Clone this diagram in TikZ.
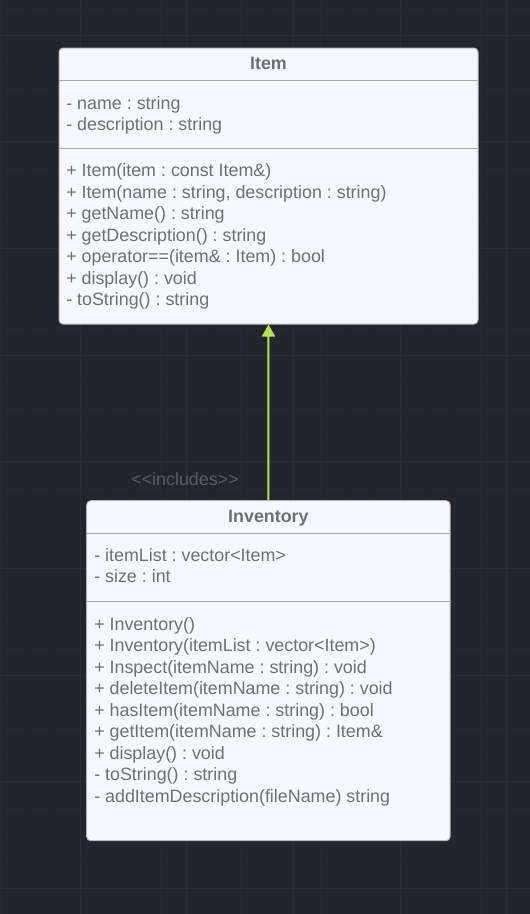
\documentclass[tikz,border=0pt]{standalone}
\usepackage{fontspec}
\setmainfont{Liberation Sans}
\usepackage{xcolor}
\usepackage{tikz}
\usetikzlibrary{positioning,arrows.meta}
\definecolor{CanvasDark}{HTML}{22252C}
\definecolor{GridMinor}{HTML}{25282F}
\definecolor{GridMajor}{HTML}{2A2D35}
\definecolor{BoxFill}{HTML}{F5F9FD}
\definecolor{BoxLine}{HTML}{B4B8BE}
\definecolor{RuleGray}{HTML}{A5A9AE}
\definecolor{TextGray}{HTML}{6C7078}
\definecolor{LinkLime}{HTML}{B7E24E}
\definecolor{LabelGray}{HTML}{585C64}

\begin{document}
\begin{tikzpicture}[x=0.75pt,y=-0.75pt,
          every node/.style={font=\fontsize{13.4}{16.1}\selectfont\frenchspacing,
            text=TextGray, inner sep=0pt},
          classbox/.style={draw=BoxLine, fill=BoxFill, rounded corners=3pt,
            line width=0.75pt},
          classtitle/.style={font=\fontsize{13.4}{16.1}\selectfont\bfseries,
            anchor=base},
          member/.style={anchor=base west},
          sep/.style={draw=RuleGray, line width=0.75pt},
          ar/.style={-{Triangle[length=9pt,width=9.75pt]},LinkLime,line width=1.5pt}]
        \useasboundingbox (0,0) rectangle (530,914);
        \fill[CanvasDark] (0,0) rectangle (530,914);
        \foreach \gx in {0,26.667,...,530} \draw[GridMinor,line width=0.75pt] (\gx,0) -- (\gx,914);
        \foreach \gy in {8.333,35,...,914} \draw[GridMinor,line width=0.75pt] (0,\gy) -- (530,\gy);
        \foreach \gx in {80,186.667,...,530} \draw[GridMajor,line width=0.75pt] (\gx,0) -- (\gx,914);
        \foreach \gy in {35,141.667,...,914} \draw[GridMajor,line width=0.75pt] (0,\gy) -- (530,\gy);

        \node[classbox, minimum width=314.25pt, minimum height=207pt]
        (item) at (268.5,186) {};
        \node[classtitle] (itemtitle) at (268.5,69) {Item};
        \draw[sep] (item.west |- 0,80.5) -- (item.east |- 0,80.5);
        \draw[sep] (item.west |- 0,148.3) -- (item.east |- 0,148.3);
        \foreach \m [count=\i from 0] in {{- name : string},{- description : string}}
          \node[member] (itemattr\i) at (66,109+21.5*\i) {\m};
        \foreach \m [count=\i from 0] in {{+ Item(item : const Item\&)},
            {+ Item(name : string, description : string)},
            {+ getName() : string},{+ getDescription() : string},
            {+ operator==(item\& : Item) : bool},{+ display() : void},
            {- toString() : string}}
          \node[member] (itemop\i) at (66,176.5+21.5*\i) {\m};

        \node[classbox, minimum width=272.5pt, minimum height=255pt]
        (inventory) at (268.4,670.7) {};
        \node[classtitle] (invtitle) at (268.4,522.3) {Inventory};
        \draw[sep] (inventory.west |- 0,533.3) -- (inventory.east |- 0,533.3);
        \draw[sep] (inventory.west |- 0,601.7) -- (inventory.east |- 0,601.7);
        \foreach \m [count=\i from 0] in {{- itemList : vector<Item>},{- size : int}}
          \node[member] (invattr\i) at (94,561+21.5*\i) {\m};
        \foreach \m [count=\i from 0] in {{+ Inventory()},
            {+ Inventory(itemList : vector<Item>)},
            {+ Inspect(itemName : string) : void},
            {+ deleteItem(itemName : string) : void},
            {+ hasItem(itemName : string) : bool},
            {+ getItem(itemName : string) : Item\&},
            {+ display() : void},{- toString() : string},
            {- addItemDescription(fileName) string}}
          \node[member] (invop\i) at (94,630+21.5*\i) {\m};

        \node[anchor=base, text=LabelGray] (inclabel) at (185,485)
        {<\kern0pt<includes>\kern0pt>};
        \draw[ar] (inventory) -- (item);
      \end{tikzpicture}
\end{document}
